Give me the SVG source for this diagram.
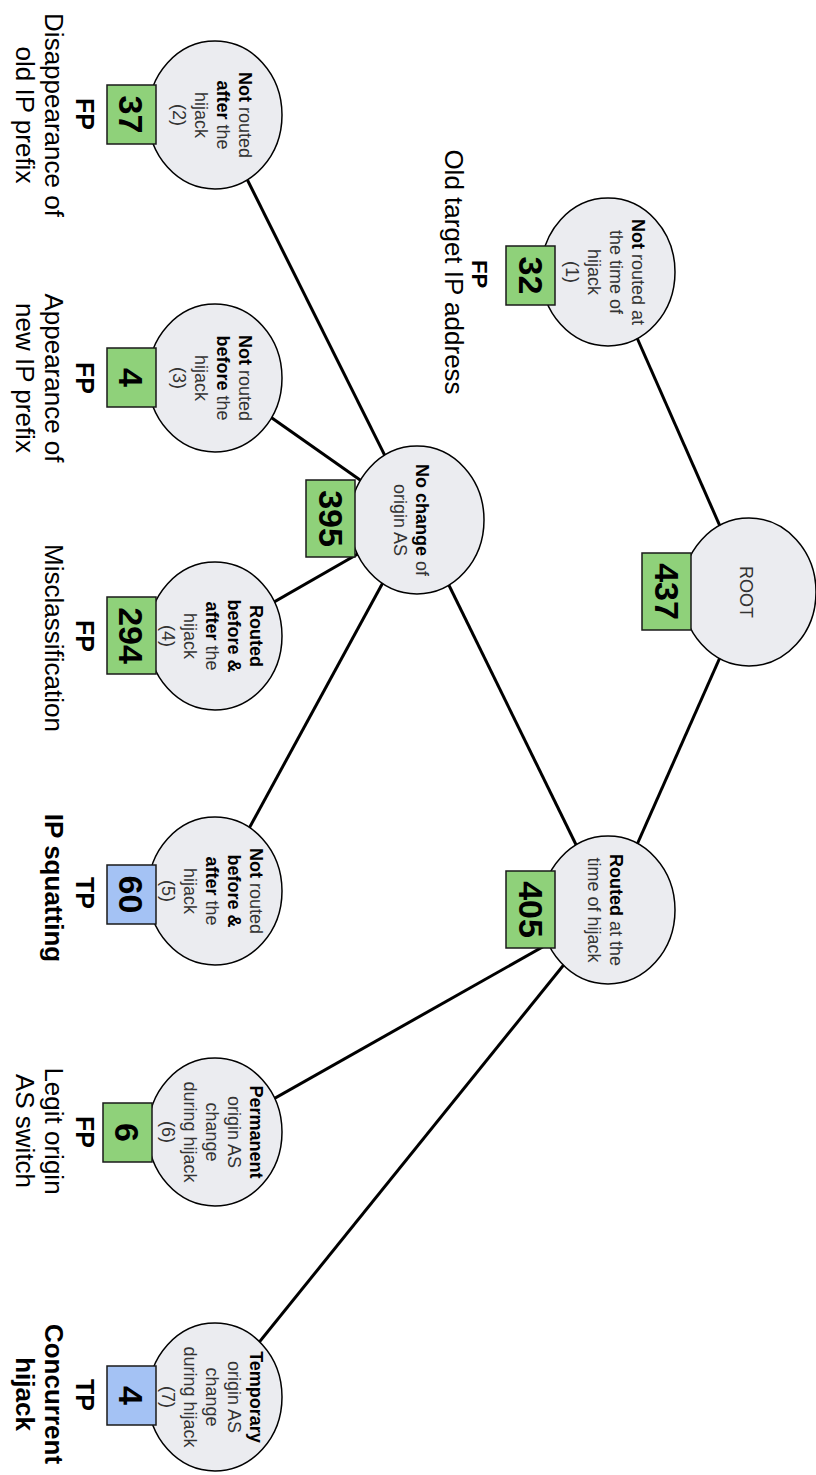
<svg xmlns="http://www.w3.org/2000/svg" width="816" height="1475" viewBox="0 0 816 1475">
<style>
.nd{fill:#ebecf0;stroke:#000;stroke-width:1.5}
.bg{fill:#8fd17a;stroke:#1a1a1a;stroke-width:1.5}
.bb{fill:#a4c2f4;stroke:#1a1a1a;stroke-width:1.5}
.num{font-family:"Liberation Sans",Arial,sans-serif;font-weight:bold;font-size:34px;text-anchor:middle;fill:#000}
.nt{font-family:"Liberation Sans",Arial,sans-serif;font-size:18px;text-anchor:middle;fill:#333}
.b{font-weight:bold;fill:#000}
.cl{font-family:"Liberation Sans",Arial,sans-serif;font-weight:bold;font-size:25px;text-anchor:middle;fill:#000}
.ds{font-family:"Liberation Sans",Arial,sans-serif;font-size:26px;text-anchor:middle;fill:#000}
.dsb{font-family:"Liberation Sans",Arial,sans-serif;font-size:26px;font-weight:bold;text-anchor:middle;fill:#000}
.e{stroke:#000;stroke-width:3;fill:none}
</style>
<rect width="816" height="1475" fill="#fff"/>
<g transform="translate(816 0) rotate(90)">
<g id="edges">
<line class="e" x1="592" y1="67" x2="272" y2="208"/>
<line class="e" x1="592" y1="67" x2="910" y2="208"/>
<line class="e" x1="910" y1="208" x2="520" y2="399"/>
<line class="e" x1="520" y1="399" x2="115" y2="601"/>
<line class="e" x1="520" y1="399" x2="378" y2="601"/>
<line class="e" x1="520" y1="399" x2="636" y2="601"/>
<line class="e" x1="520" y1="399" x2="891" y2="601"/>
<line class="e" x1="910" y1="208" x2="1132" y2="601"/>
<line class="e" x1="910" y1="208" x2="1397" y2="601"/>
</g>
<g id="root">
<ellipse class="nd" cx="592" cy="67" rx="74" ry="67"/>
<rect class="bg" x="553" y="125" width="77" height="49"/>
<text class="num" x="591.5" y="161">437</text>
<text class="nt" x="592" y="76">ROOT</text>
</g>
<g id="n1">
<ellipse class="nd" cx="272" cy="208" rx="74" ry="67"/>
<rect class="bg" x="246" y="261" width="59" height="49"/>
<text class="num" x="275.5" y="297">32</text>
<text class="nt"><tspan x="272" y="184"><tspan class="b">Not</tspan> routed at</tspan><tspan x="272" y="206">the time of</tspan><tspan x="272" y="228">hijack</tspan><tspan x="272" y="250">(1)</tspan></text>
<text class="cl" x="274" y="344" style="font-size:22px">FP</text>
<text class="ds" x="272" y="371">Old target IP address</text>
</g>
<g id="routed">
<ellipse class="nd" cx="910" cy="208" rx="74" ry="67"/>
<rect class="bg" x="871" y="261" width="77" height="49"/>
<text class="num" x="909.5" y="297">405</text>
<text class="nt"><tspan x="910" y="206"><tspan class="b">Routed</tspan> at the</tspan><tspan x="910" y="228">time of hijack</tspan></text>
</g>
<g id="nochange">
<ellipse class="nd" cx="520" cy="399" rx="74" ry="67"/>
<rect class="bg" x="480" y="461" width="77" height="49"/>
<text class="num" x="518.5" y="497">395</text>
<text class="nt"><tspan x="520" y="400"><tspan class="b">No change</tspan> of</tspan><tspan x="520" y="422">origin AS</tspan></text>
</g>
<g id="leaf2">
<ellipse class="nd" cx="115" cy="601" rx="74" ry="67"/>
<rect class="bg" x="85" y="660" width="59" height="49"/>
<text class="num" x="114.5" y="697">37</text>
<text class="nt"><tspan x="115" y="577"><tspan class="b">Not</tspan> routed</tspan><tspan x="115" y="599"><tspan class="b">after</tspan> the</tspan><tspan x="115" y="621">hijack</tspan><tspan x="115" y="643">(2)</tspan></text>
<text class="cl" x="114" y="740">FP</text>
<text class="ds" x="115" y="771">Disappearance of</text>
<text class="ds" x="115" y="800">old IP prefix</text>
</g>
<g id="leaf3">
<ellipse class="nd" cx="378" cy="601" rx="74" ry="67"/>
<rect class="bg" x="348" y="660" width="59" height="49"/>
<text class="num" x="377.5" y="697">4</text>
<text class="nt"><tspan x="378" y="577"><tspan class="b">Not</tspan> routed</tspan><tspan x="378" y="599"><tspan class="b">before</tspan> the</tspan><tspan x="378" y="621">hijack</tspan><tspan x="378" y="643">(3)</tspan></text>
<text class="cl" x="378" y="740">FP</text>
<text class="ds" x="378" y="771">Appearance of</text>
<text class="ds" x="378" y="800">new IP prefix</text>
</g>
<g id="leaf4">
<ellipse class="nd" cx="636" cy="601" rx="74" ry="67"/>
<rect class="bg" x="597" y="660" width="77" height="49"/>
<text class="num" x="635.5" y="697">294</text>
<text class="nt"><tspan x="636" y="566" class="b">Routed</tspan><tspan x="636" y="588" class="b">before &amp;</tspan><tspan x="636" y="610"><tspan class="b">after</tspan> the</tspan><tspan x="636" y="632">hijack</tspan><tspan x="636" y="654">(4)</tspan></text>
<text class="cl" x="636" y="740">FP</text>
<text class="ds" x="638" y="771">Misclassification</text>
</g>
<g id="leaf5">
<ellipse class="nd" cx="891" cy="601" rx="74" ry="67"/>
<rect class="bb" x="865" y="660" width="59" height="49"/>
<text class="num" x="894.5" y="697">60</text>
<text class="nt"><tspan x="891" y="566"><tspan class="b">Not</tspan> routed</tspan><tspan x="891" y="588" class="b">before &amp;</tspan><tspan x="891" y="610"><tspan class="b">after</tspan> the</tspan><tspan x="891" y="632">hijack</tspan><tspan x="891" y="654">(5)</tspan></text>
<text class="cl" x="893" y="740">TP</text>
<text class="dsb" x="888" y="771">IP squatting</text>
</g>
<g id="leaf6">
<ellipse class="nd" cx="1132" cy="601" rx="74" ry="67"/>
<rect class="bg" x="1103" y="664" width="59" height="49"/>
<text class="num" x="1132.5" y="701">6</text>
<text class="nt"><tspan x="1132" y="566" class="b">Permanent</tspan><tspan x="1132" y="588">origin AS</tspan><tspan x="1132" y="610">change</tspan><tspan x="1132" y="632">during hijack</tspan><tspan x="1132" y="654">(6)</tspan></text>
<text class="cl" x="1132" y="740">FP</text>
<text class="ds" x="1131" y="771">Legit origin</text>
<text class="ds" x="1131" y="800">AS switch</text>
</g>
<g id="leaf7">
<ellipse class="nd" cx="1397" cy="601" rx="74" ry="67"/>
<rect class="bb" x="1366" y="660" width="59" height="49"/>
<text class="num" x="1395.5" y="697">4</text>
<text class="nt"><tspan x="1397" y="566" class="b">Temporary</tspan><tspan x="1397" y="588">origin AS</tspan><tspan x="1397" y="610">change</tspan><tspan x="1397" y="632">during hijack</tspan><tspan x="1397" y="654">(7)</tspan></text>
<text class="cl" x="1395" y="740">TP</text>
<text class="dsb" x="1394" y="771">Concurrent</text>
<text class="dsb" x="1394" y="800">hijack</text>
</g>
</g>
</svg>
